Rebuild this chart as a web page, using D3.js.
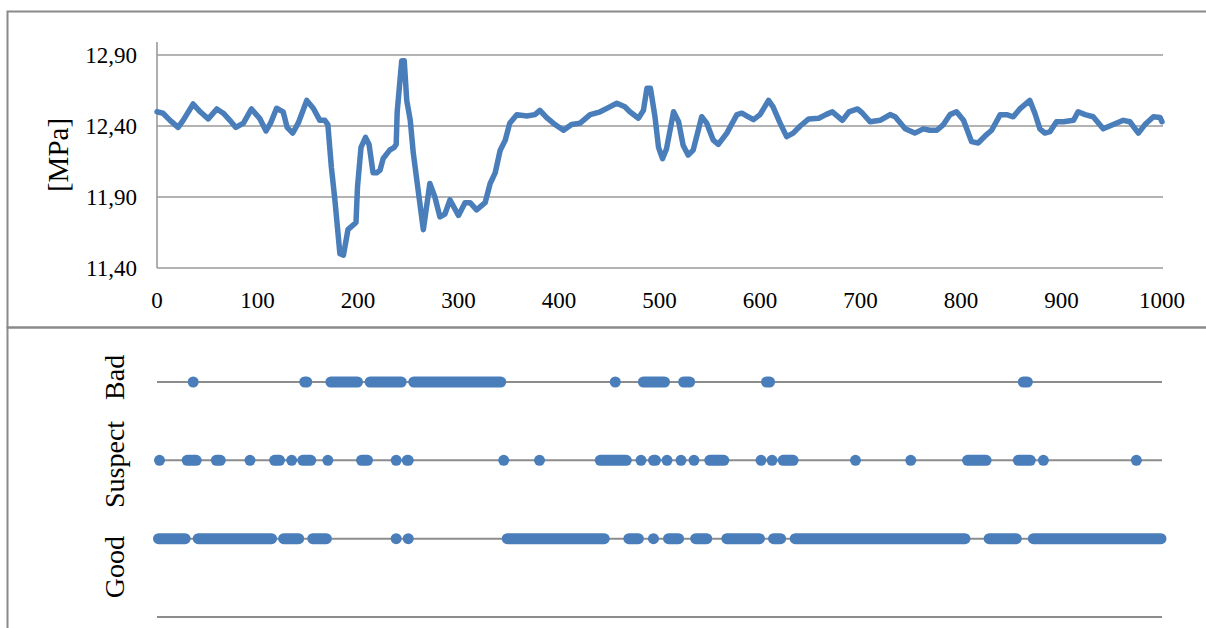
<!DOCTYPE html>
<html>
<head>
<meta charset="utf-8">
<script src="https://cdn.jsdelivr.net/npm/d3@7"></script>
<style>
  html, body { margin: 0; padding: 0; background: #fff; }
  svg { display: block; }
  text { font-family: "Liberation Serif", "Times New Roman", serif; fill: #000; }
</style>
</head>
<body>
<svg id="chart" width="1206" height="628"></svg>
<script>
// ---------- DATA ----------
// Sample index (x) and pressure [MPa]
const sampleX = [0,6,13,21,26,36,43,51,59.5,66,72.5,78.5,86,94,102.5,108.5,113,119,125.5,129.5,135,140.5,149,155.5,162,167,170,173.5,177,182,185.5,190,198,199.5,203,207.5,211,215,218.5,222,225,231.5,236,238,239,243.5,246,248.5,252,255,258.5,265,271.5,276.5,281.5,286.5,291.5,300,306.5,311.5,318,326.5,331.5,336.5,341.5,346.5,351,358,368,376,381,387.5,396,404.5,412.5,421,431,441,450.5,457.5,465.5,470.5,479,484,487.5,491,495.5,499,503,507,514,519,523.5,528.5,533.5,542,547,553.5,558.5,567,577,582,587,593.5,600,608.5,613,620,626.5,633,640,648.5,658.5,665.5,672,682,688.5,697,702,709.5,719.5,729.5,734.5,744.5,754,762.5,769,776,782.5,789,795.5,802.5,810.5,817,824,830.5,839,845.5,852,858.5,868.5,873.5,878.5,883.5,888.5,895,902,912,916.5,923.5,931.5,941.5,951.5,961.5,968,976.5,983,991.5,998,1000];
const pressure = [12.50,12.49,12.44,12.39,12.44,12.555,12.50,12.45,12.52,12.49,12.44,12.39,12.42,12.52,12.45,12.365,12.42,12.525,12.50,12.39,12.35,12.42,12.58,12.525,12.44,12.44,12.41,12.11,11.88,11.50,11.49,11.67,11.72,11.97,12.25,12.32,12.27,12.07,12.07,12.09,12.17,12.23,12.25,12.27,12.50,12.86,12.86,12.58,12.44,12.21,12.02,11.67,11.995,11.90,11.76,11.78,11.88,11.77,11.86,11.86,11.81,11.86,11.995,12.07,12.23,12.30,12.42,12.48,12.47,12.48,12.51,12.46,12.41,12.37,12.41,12.42,12.48,12.50,12.535,12.56,12.535,12.50,12.455,12.51,12.665,12.665,12.465,12.25,12.17,12.24,12.50,12.43,12.265,12.195,12.23,12.465,12.42,12.30,12.27,12.35,12.48,12.49,12.47,12.445,12.48,12.58,12.535,12.42,12.325,12.35,12.40,12.45,12.455,12.48,12.50,12.44,12.50,12.52,12.49,12.43,12.44,12.48,12.465,12.38,12.35,12.38,12.37,12.37,12.41,12.48,12.50,12.44,12.29,12.28,12.33,12.37,12.48,12.48,12.465,12.52,12.58,12.49,12.38,12.35,12.36,12.43,12.43,12.44,12.50,12.48,12.465,12.38,12.41,12.44,12.43,12.35,12.41,12.465,12.46,12.43];

const xTicks = [0,100,200,300,400,500,600,700,800,900,1000];
const yTicks = [11.40,11.90,12.40,12.90];
const yTitle = "[MPa]";

// Quality flags: runs of consecutive samples [first, last] per category
const categories = ["Bad","Suspect","Good",""];
const badRuns = [[36,36],[147,149],[173,199.5],[212,243],[255.5,342],[456,456],[484,505],[524,530],[606.5,609.5],[862,866]];
const suspectRuns = [[2.5,2.5],[30,39],[59,63],[92.5,92.5],[117,122],[134,134],[145,153],[170,170],[203.5,209.5],[238,238],[249,250],[345,345],[380.6,380.6],[441,467],[481.6,481.6],[494,496],[507.5,507.5],[521.4,521.4],[534.3,534.3],[550,564],[601,601],[612,612],[623,633],[695,695],[750,750],[806.5,825],[857,869],[882,882],[974.5,974.5]];
const goodRuns = [[1.5,28],[41,114],[126,141],[155,168.5],[238,238],[250,250],[348.5,445],[469.5,479],[494,494],[509,519],[536,547],[567,599.5],[613.5,620.5],[635,804],[828,855],[872,999]];
const categoryTitle = "Good    Suspect   Bad";

// ---------- DRAW ----------
const svg = d3.select("#chart");
const blue = "#4a7ebb";
const gridCol = "#9a9a9a";
const frameCol = "#8a8a8a";

svg.append("rect").attr("width",1206).attr("height",628).attr("fill","#fff");

svg.append("rect").attr("x",7.5).attr("y",11.5).attr("width",1220).attr("height",316)
  .attr("fill","none").attr("stroke",frameCol).attr("stroke-width",2);
svg.append("rect").attr("x",7.5).attr("y",327.5).attr("width",1220).attr("height",320)
  .attr("fill","none").attr("stroke",frameCol).attr("stroke-width",2);

const xS = d3.scaleLinear().domain([0,1000]).range([157,1162]);
const yS = d3.scaleLinear().domain([11.4,12.9]).range([268,55]);

const gTop = svg.append("g");
gTop.selectAll("line.grid").data(yTicks).join("line")
  .attr("x1",157).attr("x2",1163)
  .attr("y1",d=>yS(d)).attr("y2",d=>yS(d))
  .attr("stroke",gridCol).attr("stroke-width",1.6);
gTop.append("line").attr("x1",157).attr("x2",157).attr("y1",42).attr("y2",yS(11.4))
  .attr("stroke",gridCol).attr("stroke-width",1.6);

gTop.selectAll("text.yt").data(yTicks).join("text")
  .attr("x",137).attr("y",d=>yS(d)+8)
  .attr("text-anchor","end").style("font-size","23px")
  .text(d=>d.toFixed(2).replace(".",","));
gTop.selectAll("text.xt").data(xTicks).join("text")
  .attr("x",d=>xS(d)).attr("y",308)
  .attr("text-anchor","middle").style("font-size","23px")
  .text(d=>d);
gTop.append("text").attr("transform","translate(68,155) rotate(-90)")
  .attr("text-anchor","middle").style("font-size","29px").text(yTitle);

const pts = sampleX.map((d,i)=>[d,pressure[i]]);
gTop.append("path").datum(pts)
  .attr("d", d3.line().x(d=>xS(d[0])).y(d=>yS(d[1])))
  .attr("fill","none").attr("stroke",blue).attr("stroke-width",5.5)
  .attr("stroke-linejoin","round").attr("stroke-linecap","round");

const yc = d3.scalePoint().domain(categories).range([382,617]);
const gBot = svg.append("g");
gBot.selectAll("line.cat").data(categories).join("line")
  .attr("x1",157).attr("x2",1162)
  .attr("y1",d=>yc(d)).attr("y2",d=>yc(d))
  .attr("stroke","#8c8c8c").attr("stroke-width",2);

const r = 5.5;
const runsBy = {Bad: badRuns, Suspect: suspectRuns, Good: goodRuns};
["Bad","Suspect","Good"].forEach(cat=>{
  gBot.selectAll("rect.r"+cat).data(runsBy[cat]).join("rect")
    .attr("class","r"+cat)
    .attr("x",d=>xS(d[0])-r).attr("width",d=>xS(d[1])-xS(d[0])+2*r)
    .attr("y",yc(cat)-r).attr("height",2*r)
    .attr("rx",r).attr("ry",r).attr("fill",blue);
});

gBot.append("text").attr("transform","translate(124,476.5) rotate(-90)")
  .attr("text-anchor","middle").style("font-size","28px").style("white-space","pre")
  .text(categoryTitle);
</script>
</body>
</html>
